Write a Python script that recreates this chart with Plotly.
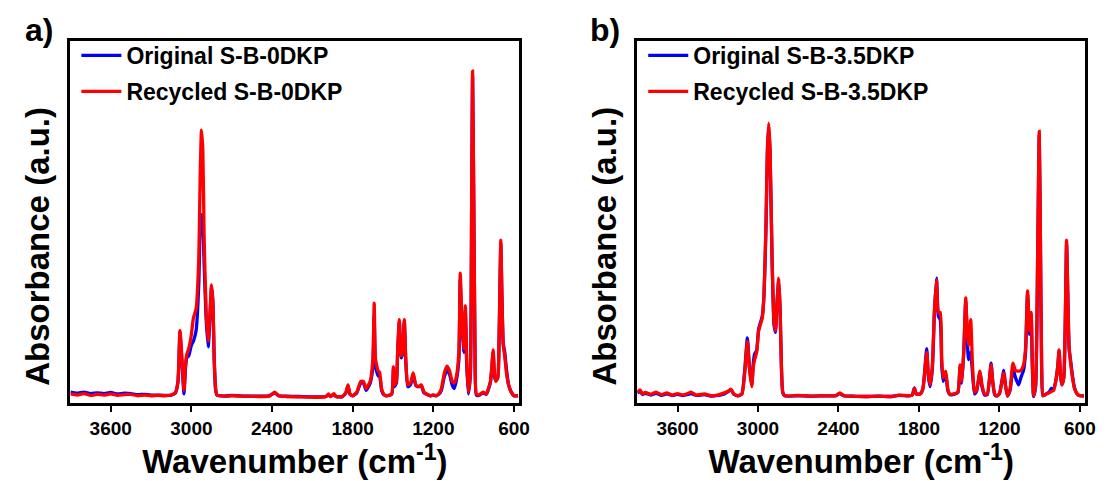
import plotly.graph_objects as go

# ---------------- data ----------------
# Panel a) S-B-0DKP : wavenumber (cm-1) and normalised absorbance
wn_a = [3900, 3850, 3800, 3750, 3700, 3650, 3600, 3550, 3500, 3450, 3400, 3350, 3300, 3250,
        3200, 3150, 3120, 3100, 3085, 3070, 3055, 3045, 3035, 3020, 3000, 2985, 2965, 2945,
        2935, 2925, 2915, 2905, 2890, 2875, 2862, 2850, 2840, 2830, 2820, 2810, 2750, 2700,
        2600, 2500, 2420, 2380, 2350, 2300, 2200, 2100, 2000, 1980, 1965, 1940, 1925, 1880,
        1850, 1835, 1820, 1800, 1770, 1740, 1720, 1700, 1670, 1650, 1640, 1630, 1610, 1600,
        1585, 1570, 1550, 1510, 1497, 1490, 1475, 1465, 1453, 1440, 1430, 1416, 1405, 1390,
        1370, 1350, 1330, 1310, 1290, 1270, 1250, 1220, 1200, 1180, 1160, 1140, 1120, 1100,
        1080, 1060, 1045, 1030, 1010, 1000, 990, 975, 962, 952, 940, 925, 915, 908, 900, 890,
        880, 860, 830, 806, 790, 775, 765, 755, 745, 735, 720, 710, 698, 690, 680, 669, 655,
        640, 620, 600, 570]
recycled_a = [0.025, 0.022, 0.026, 0.021, 0.024, 0.022, 0.025, 0.021, 0.023, 0.024, 0.020, 0.022,
              0.020, 0.021, 0.020, 0.022, 0.028, 0.060, 0.200, 0.120, 0.035, 0.100, 0.133, 0.150,
              0.190, 0.235, 0.260, 0.400, 0.620, 0.754, 0.700, 0.450, 0.250, 0.171, 0.250, 0.326,
              0.280, 0.120, 0.040, 0.022, 0.019, 0.020, 0.019, 0.018, 0.019, 0.030, 0.020, 0.018,
              0.017, 0.016, 0.017, 0.025, 0.018, 0.026, 0.018, 0.017, 0.030, 0.050, 0.025, 0.020,
              0.030, 0.060, 0.060, 0.040, 0.060, 0.120, 0.276, 0.120, 0.088, 0.085, 0.040, 0.025,
              0.020, 0.025, 0.100, 0.050, 0.060, 0.150, 0.230, 0.130, 0.140, 0.230, 0.120, 0.050,
              0.055, 0.083, 0.050, 0.045, 0.050, 0.030, 0.025, 0.020, 0.022, 0.020, 0.025, 0.040,
              0.080, 0.102, 0.090, 0.060, 0.055, 0.070, 0.140, 0.359, 0.250, 0.150, 0.268, 0.120,
              0.030, 0.080, 0.550, 0.917, 0.600, 0.150, 0.025, 0.022, 0.030, 0.025, 0.040, 0.060,
              0.100, 0.147, 0.080, 0.060, 0.070, 0.200, 0.450, 0.300, 0.160, 0.130, 0.080, 0.050,
              0.030, 0.020, 0.020]
original_a = [0.030, 0.027, 0.030, 0.026, 0.028, 0.026, 0.029, 0.025, 0.027, 0.026, 0.023, 0.024,
              0.022, 0.022, 0.021, 0.022, 0.027, 0.058, 0.195, 0.110, 0.025, 0.090, 0.125, 0.130,
              0.160, 0.171, 0.200, 0.330, 0.480, 0.520, 0.500, 0.380, 0.230, 0.155, 0.235, 0.320,
              0.275, 0.115, 0.038, 0.022, 0.019, 0.021, 0.019, 0.019, 0.020, 0.028, 0.020, 0.019,
              0.018, 0.017, 0.018, 0.023, 0.018, 0.024, 0.018, 0.017, 0.028, 0.048, 0.024, 0.020,
              0.028, 0.055, 0.055, 0.035, 0.055, 0.100, 0.240, 0.100, 0.075, 0.075, 0.035, 0.023,
              0.020, 0.024, 0.095, 0.045, 0.055, 0.145, 0.225, 0.125, 0.135, 0.225, 0.115, 0.045,
              0.050, 0.078, 0.048, 0.045, 0.048, 0.028, 0.024, 0.020, 0.022, 0.020, 0.024, 0.035,
              0.070, 0.090, 0.080, 0.050, 0.040, 0.060, 0.120, 0.340, 0.240, 0.140, 0.255, 0.110,
              0.025, 0.075, 0.540, 0.900, 0.590, 0.140, 0.022, 0.021, 0.028, 0.024, 0.038, 0.058,
              0.095, 0.140, 0.075, 0.062, 0.072, 0.190, 0.440, 0.300, 0.165, 0.140, 0.090, 0.050,
              0.030, 0.020, 0.020]

# Panel b) S-B-3.5DKP
wn_b = [3900, 3880, 3860, 3840, 3800, 3760, 3720, 3680, 3640, 3600, 3560, 3520, 3500, 3460,
        3400, 3350, 3300, 3250, 3220, 3200, 3180, 3150, 3120, 3100, 3079, 3065, 3047, 3035,
        3025, 3010, 2995, 2968, 2955, 2940, 2930, 2920, 2910, 2895, 2880, 2870, 2858, 2845,
        2835, 2825, 2815, 2800, 2700, 2600, 2500, 2420, 2390, 2360, 2300, 2200, 2100, 2000,
        1950, 1880, 1850, 1834, 1820, 1790, 1770, 1742, 1730, 1717, 1700, 1685, 1669, 1655,
        1641, 1630, 1619, 1600, 1585, 1570, 1540, 1510, 1493, 1480, 1465, 1451, 1440, 1430,
        1414, 1400, 1385, 1370, 1345, 1330, 1310, 1290, 1262, 1250, 1235, 1220, 1200, 1167,
        1155, 1140, 1120, 1099, 1080, 1057, 1040, 1020, 1005, 990, 975, 963, 955, 945, 930,
        915, 903, 895, 885, 875, 850, 830, 812, 795, 780, 765, 755, 745, 735, 720, 710, 699,
        690, 680, 670, 655, 640, 620, 600, 570]
recycled_b = [0.030, 0.036, 0.025, 0.029, 0.024, 0.030, 0.023, 0.028, 0.022, 0.026, 0.022, 0.027,
              0.030, 0.022, 0.025, 0.020, 0.022, 0.028, 0.033, 0.038, 0.025, 0.020, 0.025, 0.080,
              0.170, 0.100, 0.045, 0.100, 0.120, 0.140, 0.200, 0.235, 0.300, 0.500, 0.700, 0.773,
              0.700, 0.400, 0.220, 0.200, 0.280, 0.345, 0.260, 0.100, 0.030, 0.020, 0.021, 0.019,
              0.020, 0.020, 0.028, 0.020, 0.019, 0.018, 0.019, 0.018, 0.022, 0.020, 0.022, 0.040,
              0.025, 0.025, 0.040, 0.140, 0.080, 0.050, 0.100, 0.250, 0.340, 0.250, 0.250, 0.120,
              0.070, 0.088, 0.040, 0.025, 0.025, 0.030, 0.105, 0.060, 0.150, 0.290, 0.200, 0.160,
              0.230, 0.100, 0.030, 0.035, 0.088, 0.050, 0.025, 0.025, 0.105, 0.060, 0.025, 0.020,
              0.025, 0.083, 0.050, 0.020, 0.040, 0.110, 0.090, 0.088, 0.090, 0.105, 0.150, 0.310,
              0.200, 0.250, 0.120, 0.020, 0.050, 0.400, 0.750, 0.500, 0.100, 0.020, 0.025, 0.028,
              0.032, 0.035, 0.060, 0.100, 0.147, 0.080, 0.050, 0.070, 0.200, 0.450, 0.300, 0.150,
              0.115, 0.070, 0.040, 0.025, 0.020, 0.020]
original_b = [0.028, 0.032, 0.024, 0.027, 0.022, 0.027, 0.021, 0.025, 0.021, 0.024, 0.021, 0.024,
              0.026, 0.021, 0.023, 0.019, 0.021, 0.025, 0.032, 0.036, 0.024, 0.020, 0.025, 0.085,
              0.180, 0.105, 0.050, 0.110, 0.135, 0.145, 0.205, 0.240, 0.300, 0.490, 0.690, 0.765,
              0.690, 0.395, 0.215, 0.195, 0.275, 0.340, 0.255, 0.095, 0.028, 0.020, 0.020, 0.019,
              0.020, 0.020, 0.026, 0.020, 0.019, 0.018, 0.019, 0.018, 0.021, 0.020, 0.022, 0.042,
              0.025, 0.025, 0.040, 0.150, 0.075, 0.045, 0.095, 0.245, 0.345, 0.240, 0.230, 0.105,
              0.060, 0.080, 0.035, 0.023, 0.024, 0.028, 0.100, 0.055, 0.145, 0.280, 0.180, 0.120,
              0.140, 0.080, 0.025, 0.032, 0.085, 0.045, 0.022, 0.023, 0.110, 0.060, 0.023, 0.019,
              0.025, 0.090, 0.050, 0.019, 0.035, 0.095, 0.070, 0.050, 0.070, 0.090, 0.140, 0.300,
              0.190, 0.240, 0.110, 0.018, 0.045, 0.390, 0.740, 0.490, 0.095, 0.020, 0.025, 0.030,
              0.040, 0.040, 0.060, 0.100, 0.145, 0.080, 0.050, 0.070, 0.195, 0.440, 0.300, 0.150,
              0.120, 0.075, 0.042, 0.025, 0.020, 0.020]

label_orig_a = "Original S-B-0DKP"
label_rec_a = "Recycled S-B-0DKP"
label_orig_b = "Original S-B-3.5DKP"
label_rec_b = "Recycled S-B-3.5DKP"
tick_vals = [3600, 3000, 2400, 1800, 1200, 600]
tick_text = ["3600", "3000", "2400", "1800", "1200", "600"]
y_title = "Absorbance (a.u.)"
x_title = "Wavenumber (cm<sup>-1</sup>)"

# ---------------- figure ----------------
FONT = "Liberation Sans, Arial, sans-serif"
BLUE = "#0000ff"
RED = "#ff0000"

fig = go.Figure()

def add_pair(wn, orig, rec, lo, lr, xa, ya, leg):
    fig.add_trace(go.Scatter(x=wn, y=orig, mode="lines", name=lo, xaxis=xa, yaxis=ya,
                             legend=leg, legendgroup=leg + "o",
                             line=dict(color=BLUE, width=3.3, shape="spline", smoothing=0.5)))
    fig.add_trace(go.Scatter(x=wn, y=rec, mode="lines", name=lr, xaxis=xa, yaxis=ya,
                             legend=leg, legendgroup=leg + "r",
                             line=dict(color=RED, width=3.3, shape="spline", smoothing=0.5)))

add_pair(wn_a, original_a, recycled_a, label_orig_a, label_rec_a, "x", "y", "legend")
add_pair(wn_b, original_b, recycled_b, label_orig_b, label_rec_b, "x2", "y2", "legend2")

W, H = 1112, 481
top_px, bot_px = 33, 395
ydom = [1 - bot_px / H, 1 - top_px / H]

xcommon = dict(range=[3900, 560], tickvals=tick_vals, ticktext=tick_text,
               ticks="outside", ticklen=6, tickwidth=2, tickcolor="black",
               showline=True, linewidth=2.5, linecolor="black", mirror=True,
               showgrid=False, zeroline=False,
               tickfont=dict(family=FONT, size=19, color="black", weight="bold"),
               title=dict(text=x_title, standoff=0,
                          font=dict(family=FONT, size=33, color="black", weight="bold")))
ycommon = dict(range=[0, 1], showticklabels=False, ticks="", showline=True,
               linewidth=2.5, linecolor="black", mirror=True, showgrid=False, zeroline=False)

legfont = dict(family=FONT, size=23, color="black", weight="bold")
title_font = dict(family=FONT, size=33, color="black", weight="bold")
label_font = dict(family=FONT, size=32, color="black", weight="bold")
fig.update_layout(
    width=W, height=H, margin=dict(l=0, r=0, t=0, b=0),
    paper_bgcolor="white", plot_bgcolor="white",
    xaxis=dict(domain=[63 / W, 516 / W], anchor="y", **xcommon),
    yaxis=dict(domain=ydom, anchor="x", **ycommon),
    xaxis2=dict(domain=[635 / W, 1087 / W], anchor="y2", **xcommon),
    yaxis2=dict(domain=ydom, anchor="x2", **ycommon),
    legend=dict(x=69 / W, y=1 - 26 / H, xanchor="left", yanchor="top", font=legfont,
                bgcolor="rgba(0,0,0,0)", tracegroupgap=3, itemwidth=40),
    legend2=dict(x=641 / W, y=1 - 26 / H, xanchor="left", yanchor="top", font=legfont,
                 bgcolor="rgba(0,0,0,0)", tracegroupgap=3, itemwidth=40),
    annotations=[
        dict(text=y_title, textangle=-90, x=29 / W, y=1 - 238 / H, xref="paper", yref="paper",
             xanchor="center", yanchor="middle", showarrow=False, font=title_font),
        dict(text=y_title, textangle=-90, x=601 / W, y=1 - 238 / H, xref="paper", yref="paper",
             xanchor="center", yanchor="middle", showarrow=False, font=title_font),
        dict(text="a)", x=15 / W, y=1 - 2 / H, xref="paper", yref="paper", xanchor="left",
             yanchor="top", showarrow=False, font=label_font),
        dict(text="b)", x=585 / W, y=1 - 2 / H, xref="paper", yref="paper", xanchor="left",
             yanchor="top", showarrow=False, font=label_font),
    ],
)

fig.write_html("out.html")
